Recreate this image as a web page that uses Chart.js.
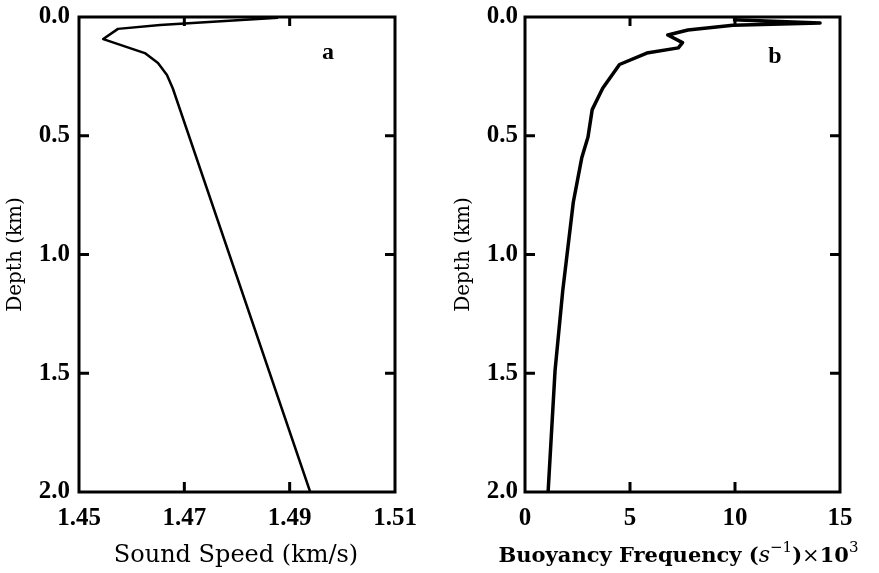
<!DOCTYPE html>
<html>
<head>
<meta charset="utf-8">
<script src="https://cdn.jsdelivr.net/npm/chart.js@4"></script>
<style>
  body { margin: 0; background: #fff; }
  canvas { position: absolute; top: 0; }
  #panelA { left: 0; }
  #panelB { left: 440px; }
</style>
</head>
<body>
<canvas id="panelA" width="440" height="573"></canvas>
<canvas id="panelB" width="439" height="573"></canvas>
<script>
// panel a: sound speed profile
const depthA = [0.003, 0.034, 0.05, 0.093, 0.152, 0.194, 0.244, 0.30, 2.0];
const soundSpeed = [1.4878, 1.4654, 1.4574, 1.4546, 1.4625, 1.4650, 1.4667, 1.4678, 1.4939];

// panel b: buoyancy frequency profile (x 10^3)
const depthB = [0.012, 0.025, 0.035, 0.055, 0.076, 0.108, 0.13, 0.152, 0.20, 0.30, 0.39, 0.505, 0.594, 0.78, 1.15, 1.49, 2.0];
const buoyancy = [9.9, 14.05, 9.9, 7.76, 6.8, 7.5, 7.3, 5.8, 4.5, 3.7, 3.2, 3.0, 2.7, 2.3, 1.8, 1.43, 1.1];

const depthTicks = [0, 0.5, 1.0, 1.5, 2.0];
const speedTicks = [1.45, 1.47, 1.49, 1.51];
const freqTicks = [0, 5, 10, 15];

const tickFont = { family: "Liberation Serif", size: 25, weight: "bold" };

// x titles, drawn as runs so the superscripts and italic s work
const titleA = [
  { t: "Sound Speed (km/s)", f: "24px 'DejaVu Serif'" }
];
const titleB = [
  { t: "Buoyancy Frequency (", f: "bold 21px 'DejaVu Serif'" },
  { t: "s", f: "italic 22px 'DejaVu Serif'" },
  { t: "\u22121", f: "15px 'DejaVu Serif'", dy: -10 },
  { t: ")", f: "bold 21px 'DejaVu Serif'" },
  { t: "\u00D7", f: "21px 'DejaVu Serif'" },
  { t: "10", f: "bold 21px 'DejaVu Serif'" },
  { t: "3", f: "15px 'DejaVu Serif'", dy: -10 }
];

const framePlugin = {
  id: "frame",
  afterDraw(chart) {
    const ctx = chart.ctx;
    const { left, right, top, bottom } = chart.chartArea;
    const xs = chart.scales.x, ys = chart.scales.y;
    const opts = chart.options.plugins.frame;
    ctx.save();
    ctx.strokeStyle = "#000";
    ctx.lineWidth = 3;
    ctx.strokeRect(left, top, right - left, bottom - top);
    ctx.beginPath();
    opts.xTicks.slice(1, -1).forEach(v => {
      const px = xs.getPixelForValue(v);
      ctx.moveTo(px, bottom); ctx.lineTo(px, bottom - 10);
      ctx.moveTo(px, top); ctx.lineTo(px, top + 9);
    });
    depthTicks.slice(1, -1).forEach(v => {
      const py = ys.getPixelForValue(v);
      ctx.moveTo(left, py); ctx.lineTo(left + 10, py);
      ctx.moveTo(right, py); ctx.lineTo(right - 10, py);
    });
    ctx.stroke();

    ctx.fillStyle = "#000";
    ctx.textBaseline = "alphabetic";
    // panel letter
    ctx.font = "bold 24px 'Liberation Serif'";
    ctx.textAlign = "center";
    ctx.fillText(opts.letter, xs.getPixelForValue(opts.letterAt[0]), ys.getPixelForValue(opts.letterAt[1]));
    // x axis title
    ctx.textAlign = "left";
    let w = 0;
    opts.title.forEach(r => { ctx.font = r.f; w += ctx.measureText(r.t).width; });
    let x = (left + right) / 2 + opts.titleShift - w / 2;
    opts.title.forEach(r => {
      ctx.font = r.f;
      ctx.fillText(r.t, x, 562 + (r.dy || 0));
      x += ctx.measureText(r.t).width;
    });
    ctx.restore();
  }
};

function makePanel(id, xVals, yVals, xTicks, xFmt, title, titleShift, letter, letterAt, yWidth, yTitlePad, yTickPad, padRight, lineW) {
  const ctx = document.getElementById(id).getContext("2d");
  return new Chart(ctx, {
    type: "scatter",
    data: {
      datasets: [{
        data: xVals.map((v, i) => ({ x: v, y: yVals[i] })),
        showLine: true,
        borderColor: "#000",
        borderWidth: lineW,
        borderJoinStyle: "round",
        pointRadius: 0,
        tension: 0
      }]
    },
    options: {
      responsive: false,
      animation: false,
      layout: { padding: { top: 17, right: padRight, left: 0, bottom: 0 } },
      plugins: {
        legend: { display: false },
        tooltip: { enabled: false },
        frame: { xTicks: xTicks, letter: letter, letterAt: letterAt, title: title, titleShift: titleShift }
      },
      scales: {
        x: {
          type: "linear",
          min: xTicks[0],
          max: xTicks[xTicks.length - 1],
          grid: { display: false, drawTicks: false },
          border: { display: false },
          afterBuildTicks: s => { s.ticks = xTicks.map(v => ({ value: v })); },
          afterFit: s => { s.height = 81; s.paddingLeft = 0; s.paddingRight = 0; },
          ticks: {
            font: tickFont, color: "#000", padding: 12, maxRotation: 0,
            callback: v => xFmt(v)
          }
        },
        y: {
          type: "linear",
          reverse: true,
          min: 0,
          max: 2,
          grid: { display: false, drawTicks: false },
          border: { display: false },
          afterBuildTicks: s => { s.ticks = depthTicks.map(v => ({ value: v })); },
          afterFit: s => { s.width = yWidth; s.paddingTop = 0; s.paddingBottom = 0; },
          ticks: {
            font: tickFont, color: "#000", padding: yTickPad,
            callback: v => v.toFixed(1)
          },
          title: { display: true, text: "Depth (km)", font: { family: "DejaVu Serif", size: 20 }, color: "#000", padding: { top: yTitlePad, bottom: 0 } }
        }
      }
    },
    plugins: [framePlugin]
  });
}

makePanel("panelA", soundSpeed, depthA, speedTicks, v => v.toFixed(2),
  titleA, -1, "a", [1.4973, 0.177], 79, 4, 9, 45, 2.5);
makePanel("panelB", buoyancy, depthB, freqTicks, v => String(v),
  titleB, -4, "b", [11.9, 0.194], 85, 12, 7, 39, 3.5);
</script>
</body>
</html>
